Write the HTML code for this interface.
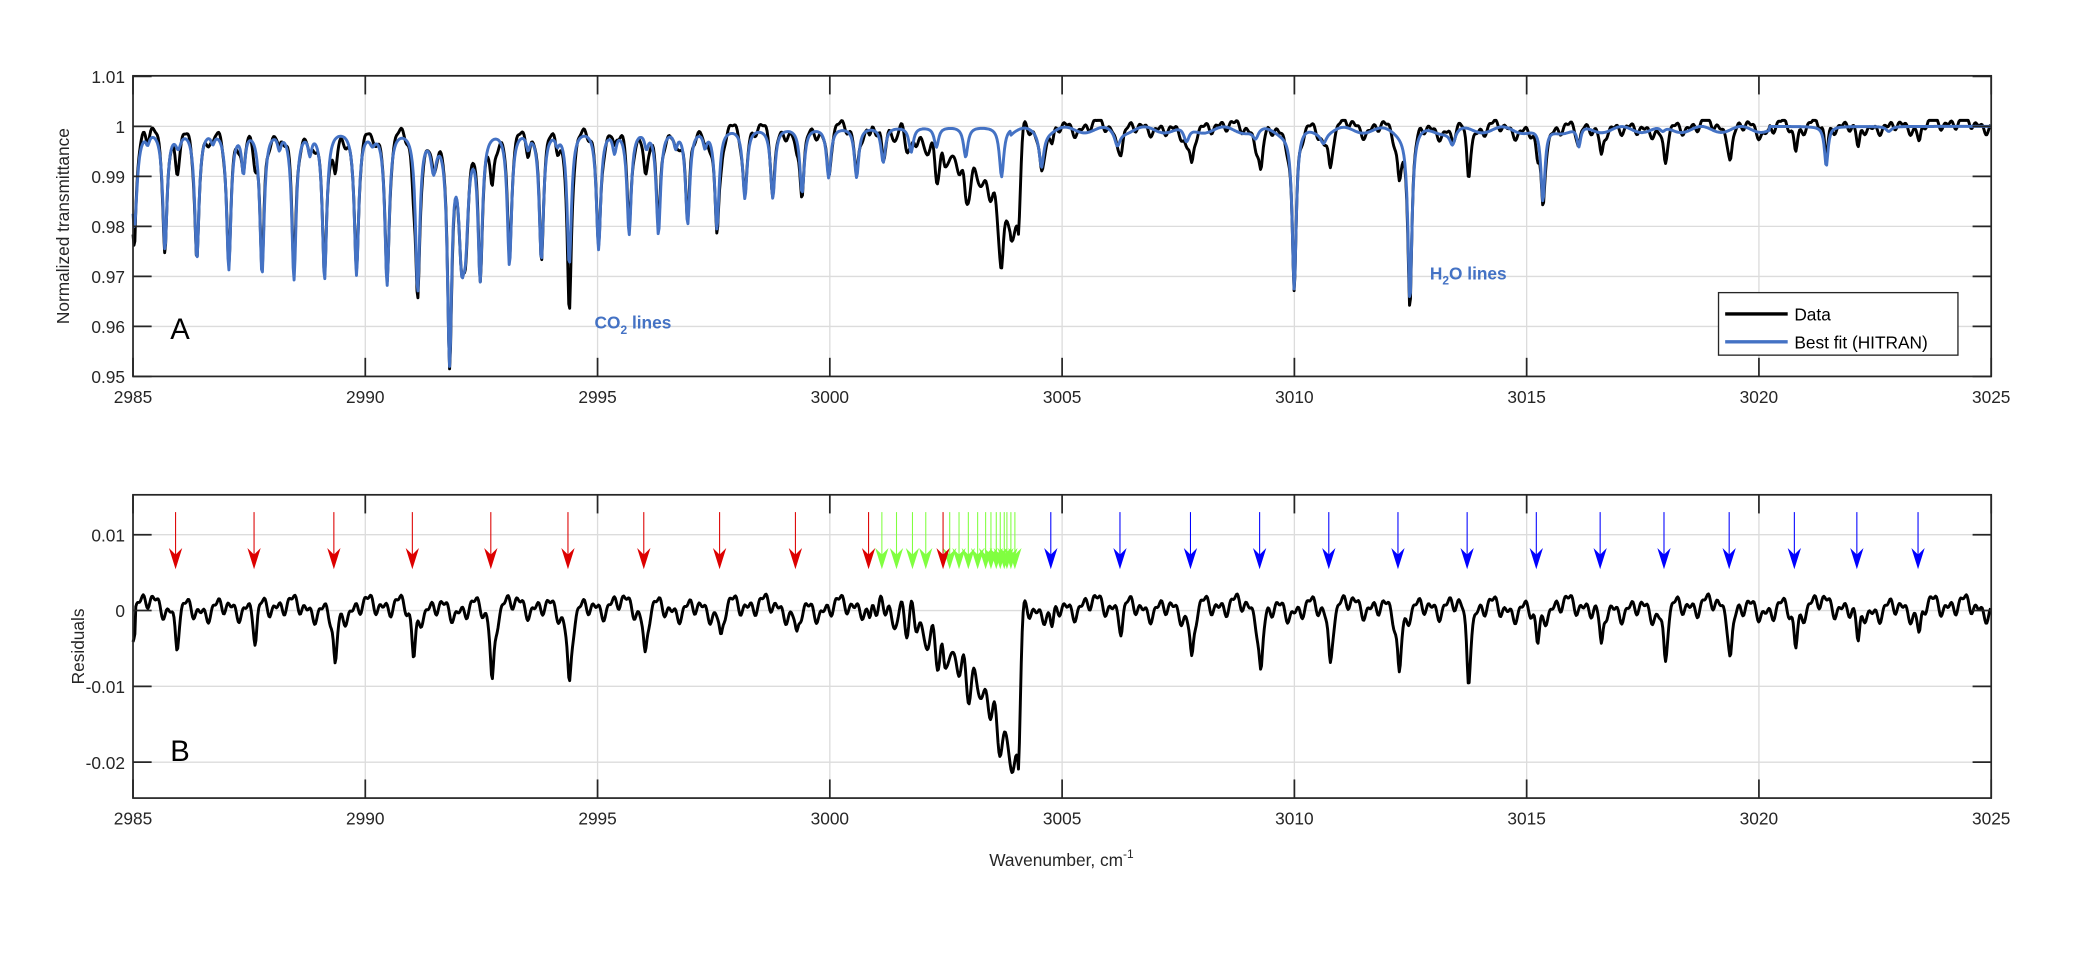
<!DOCTYPE html>
<html><head><meta charset="utf-8"><style>
html,body{margin:0;padding:0;background:#fff;}
svg{display:block;font-family:"Liberation Sans",Arial,sans-serif;}
</style></head><body>
<svg id="s" width="2075" height="969" viewBox="0 0 1560 728.5" xmlns="http://www.w3.org/2000/svg">
<g id="grid" stroke="#dcdcdc" stroke-width="1"></g>
<g id="series"></g>
<g id="axes" fill="none" stroke="#262626" stroke-width="1.3"></g>
<g id="txt" fill="#262626" font-size="13"></g>
<g id="arrows"></g>
<text x="128" y="255" font-size="22" fill="#000">A</text>
<text x="128" y="572" font-size="22" fill="#000">B</text>
<text x="447" y="247" font-size="13" font-weight="bold" fill="#4472c4">CO<tspan font-size="9" dy="4">2</tspan><tspan dy="-4"> lines</tspan></text>
<text x="1075" y="210" font-size="13" font-weight="bold" fill="#4472c4">H<tspan font-size="9" dy="4">2</tspan><tspan dy="-4">O lines</tspan></text>
<rect x="1292" y="220" width="180" height="47" fill="#fff" stroke="#262626" stroke-width="1"/>
<line x1="1297" y1="236" x2="1344" y2="236" stroke="#000" stroke-width="2.5"/>
<line x1="1297" y1="257" x2="1344" y2="257" stroke="#4472c4" stroke-width="2.5"/>
<text x="1349" y="241" font-size="13" fill="#000">Data</text>
<text x="1349" y="262" font-size="13" fill="#000">Best fit (HITRAN)</text>
<text transform="translate(52,170) rotate(-90)" text-anchor="middle" font-size="13" fill="#262626">Normalized transmittance</text>
<text transform="translate(63,486) rotate(-90)" text-anchor="middle" font-size="13" fill="#262626">Residuals</text>
<text x="798" y="651" text-anchor="middle" font-size="13" fill="#262626">Wavenumber, cm<tspan font-size="9" dy="-6">-1</tspan></text>
</svg>
<script>
var NS="http://www.w3.org/2000/svg";
function el(p,t,a){var e=document.createElementNS(NS,t);for(var k in a)e.setAttribute(k,a[k]);p.appendChild(e);return e;}
var L=100,R=1497;
function X(w){return L+(w-2985)*34.925;}
function W(x){return 2985+(x-L)/34.925;}
function YT(t){return 95+(1-t)*3760;}
function YB(r){return 459-r*5700;}
var grid=document.getElementById('grid'),axes=document.getElementById('axes'),txt=document.getElementById('txt');
[[57,283],[372,600]].forEach(function(p){
 for(var w=2990;w<=3020;w+=5){el(grid,'line',{x1:X(w),x2:X(w),y1:p[0],y2:p[1]});}
});
[1.0,0.99,0.98,0.97,0.96].forEach(function(v){el(grid,'line',{x1:L,x2:R,y1:YT(v),y2:YT(v)});});
[0.01,0,-0.01,-0.02].forEach(function(v){el(grid,'line',{x1:L,x2:R,y1:YB(v),y2:YB(v)});});
[[57,283],[372,600]].forEach(function(p,i){
 el(axes,'rect',{x:L,y:p[0],width:R-L,height:p[1]-p[0]});
 for(var w=2985;w<=3025;w+=5){var x=X(w);
  el(axes,'line',{x1:x,x2:x,y1:p[1],y2:p[1]-14});el(axes,'line',{x1:x,x2:x,y1:p[0],y2:p[0]+14});
  var t=el(txt,'text',{x:x,y:p[1]+20,'text-anchor':'middle'});t.textContent=w;}
});
var tl=[[1.01,"1.01"],[1,"1"],[0.99,"0.99"],[0.98,"0.98"],[0.97,"0.97"],[0.96,"0.96"],[0.95,"0.95"]];
tl.forEach(function(a){var y=YT(a[0]);el(axes,'line',{x1:L,x2:L+14,y1:y,y2:y});el(axes,'line',{x1:R,x2:R-14,y1:y,y2:y});
 var t=el(txt,'text',{x:L-6,y:y+5,'text-anchor':'end'});t.textContent=a[1];});
[[0.01,"0.01"],[0,"0"],[-0.01,"-0.01"],[-0.02,"-0.02"]].forEach(function(a){var y=YB(a[0]);el(axes,'line',{x1:L,x2:L+14,y1:y,y2:y});el(axes,'line',{x1:R,x2:R-14,y1:y,y2:y});
 var t=el(txt,'text',{x:L-6,y:y+5,'text-anchor':'end'});t.textContent=a[1];});
var lines=[[101,.02,3],[124,.024,2.4],[148,.026,2.4],[172,.028,2.4],[197,.029,2.4],[221,.030,2.4],[244,.030,2.4],[268,.029,2.4],[291,.031,2.4],[314,.032,2.4],[338,.045,2.4],[361,.029,2.4],[383,.027,2.4],[407,.026,2.4],[428,.027,2.4],[450,.024,2.4],[473,.021,2.4],[495,.021,2.4],[517,.019,2.4],[539,.02,2.4],[560,.014,2.4],[581,.014,2.4],[603,.013,2.4],[623,.01,2.4],[644,.01,2.4],[664,.007,2.4],[685,.005,2.4],[704,.004,2.4],[726,.006,2.4],[753,.010,2.4],[783,.007,2.5],
[111,.002,2],[134,.003,3],[160,.002,2],[183,.008,2],[210,.003,2],[233,.004,2],[280,.002,3],[326,.007,3],[347,.02,3],[350,.017,3],[397,.003,2],[419,.002,2],[462,.004,2],[486,.003,2],[508,.003,2],[530,.003,2],
[840,.003,3],[892,.003,3],[944,.002,3],[973,.032,2.2],[995,.002,3],[1060,.034,2.2],[1092,.003,3],[1160,.015,2.2],[1187,.004,2],[1373,.008,2],[1250,.001,3],[1420,.001,3]];
function model(x){var t=1;for(var i=0;i<lines.length;i++){var d=(x-lines[i][0])/lines[i][2];t-=lines[i][1]/(1+d*d*1.5);}
 if(x>760&&x<1330)t-=0.0006*(1+Math.sin(x*0.21));return t;}
var red=[132,191,251,310,369,427,484,541,598,653,709];
var blue=[790,842,895,947,999,1051,1103,1155,1203,1251,1300,1349,1396,1442];
var rdep=[.005,.005,.008,.007,.010,.0095,.0065,.0045,.004,.003,.004];
var bdep=[.003,.003,.007,.008,.007,.008,.0095,.005,.0065,.0065,.0055,.0055,.0055,.004];
function resid(x){var r=0.0008*Math.sin(x*0.55)+0.0007*Math.sin(x*0.23+1)+0.0005*Math.sin(x*1.1+2)+0.0004*Math.sin(x*0.07)+0.0005;
 for(var k=0;k<red.length;k++){var d=(x-red[k]-1)/1.8;r-=rdep[k]/(1+d*d);}
 for(var k=0;k<blue.length;k++){var d=(x-blue[k]-1)/1.8;r-=bdep[k]/(1+d*d);}
 var w=W(x);
 if(w>3000.5&&w<3004.05){var f=(w-3000.5)/3.55;r+=-0.022*Math.pow(f,2.4)+0.0018*Math.min(1,f*3)*Math.sin(x*0.8);}
 else if(w>=3004.05){r+=-0.023*Math.exp(-Math.pow((w-3004.05)/0.07,2));}
 if(x>=100&&x<=102)r-=0.003;
 return r;}
var pb="",pk="",pr="";
var n=0;
for(var x=100;x<=1497;x+=0.7,n++){var m=model(x);var r=resid(x);
 pb+=(n?"L":"M")+x.toFixed(1)+" "+YT(m).toFixed(1);
 pk+=(n?"L":"M")+x.toFixed(1)+" "+YT(Math.min(m+r,1.0012)).toFixed(1);
 pr+=(n?"L":"M")+x.toFixed(1)+" "+YB(r).toFixed(1);}
var S=document.getElementById('series');
el(S,'path',{d:pk,fill:'none',stroke:'#000','stroke-width':2.2,'stroke-linejoin':'round'});
el(S,'path',{d:pb,fill:'none',stroke:'#4472c4','stroke-width':2.2,'stroke-linejoin':'round'});
el(S,'path',{d:pr,fill:'none',stroke:'#000','stroke-width':2.2,'stroke-linejoin':'round'});
var A=document.getElementById('arrows');
function arrow(x,c){el(A,'line',{x1:x,x2:x,y1:385,y2:418,stroke:c,'stroke-width':0.8});
 el(A,'polygon',{points:(x)+",428 "+(x-5)+",412 "+x+",417 "+(x+5)+",412",fill:c});}
[663,674,686,696,714,721,728,735,741,745,749,752,755,757,760,763].forEach(function(x){arrow(x,'#80ff40');});
red.forEach(function(x){arrow(x,'#dd0000');});
blue.forEach(function(x){arrow(x,'#0000ff');});
</script>
</body></html>
